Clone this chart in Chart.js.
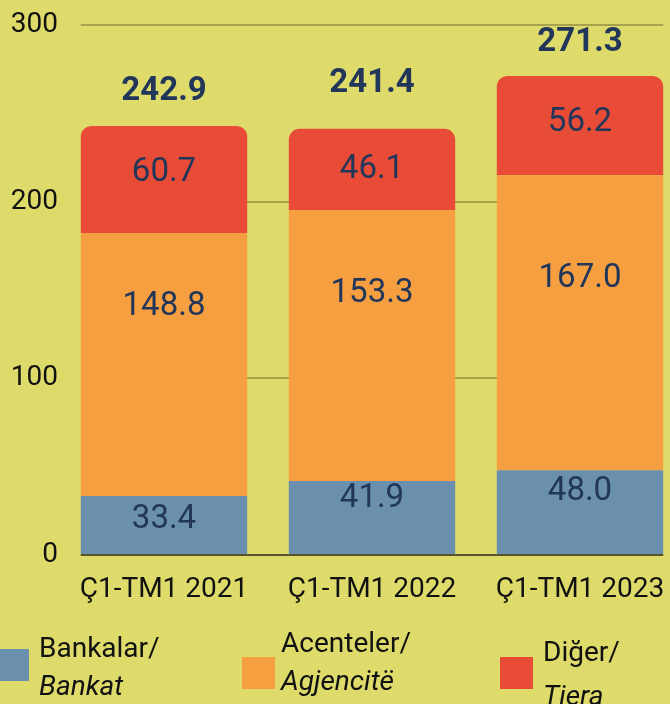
<!DOCTYPE html>
<html>
<head>
<meta charset="utf-8">
<script src="https://cdn.jsdelivr.net/npm/chart.js@4/dist/chart.umd.min.js"></script>
<style>
  html, body { margin:0; padding:0; width:670px; height:704px; overflow:hidden; background:#dedb6a; }
  #wrap { position:absolute; left:0; top:0; width:700px; height:704px; }
  .sq { position:absolute; }
  .lg { position:absolute; font-family:Roboto, sans-serif; font-size:28px; color:#111; white-space:nowrap; }
  .lg i { font-style:italic; }
</style>
</head>
<body>
<div id="wrap"><canvas id="c" width="700" height="704"></canvas></div>
<div id="legend"></div>
<script>
// ---- data ----
const categories = ['Ç1-TM1 2021', 'Ç1-TM1 2022', 'Ç1-TM1 2023'];
const bankalar   = [33.4, 41.9, 48.0];
const acenteler  = [148.8, 153.3, 167.0];
const diger      = [60.7, 46.1, 56.2];
const totals     = [242.9, 241.4, 271.3];
const yTicks     = [0, 100, 200, 300];
const seriesTr   = ['Bankalar/', 'Acenteler/', 'Diğer/'];
const seriesSq   = ['Bankat', 'Agjencitë', 'Tjera'];

// ---- style ----
const colors = ['#6a90ae', '#f59f40', '#e84c37'];
const navy = '#22365a';
const FONT = 'Roboto, sans-serif';

const labelPlugin = {
  id: 'labels',
  beforeDatasetsDraw(chart) {
    const ctx = chart.ctx, y = chart.scales.y;
    const first = chart.getDatasetMeta(0).data[0];
    const last = chart.getDatasetMeta(0).data[categories.length - 1];
    const x0 = first.x - first.width / 2, x1 = last.x + last.width / 2;
    ctx.save();
    ctx.strokeStyle = '#a9a24c';
    ctx.lineWidth = 2;
    yTicks.forEach(v => {
      if (v === 0) return;
      const py = Math.round(y.getPixelForValue(v));
      ctx.beginPath(); ctx.moveTo(x0, py); ctx.lineTo(x1, py); ctx.stroke();
    });
    ctx.restore();
  },
  afterDatasetsDraw(chart, args, opts) {
    const ctx = chart.ctx, y = chart.scales.y;
    const first = chart.getDatasetMeta(0).data[0];
    const last = chart.getDatasetMeta(0).data[categories.length - 1];
    const x0 = first.x - first.width / 2, x1 = last.x + last.width / 2;
    ctx.save();
    ctx.strokeStyle = '#57552c';
    ctx.lineWidth = 2;
    const py0 = Math.round(y.getPixelForValue(0));
    ctx.beginPath(); ctx.moveTo(x0, py0); ctx.lineTo(x1, py0); ctx.stroke();

    ctx.fillStyle = navy;
    ctx.textAlign = 'center';
    ctx.textBaseline = 'middle';
    ctx.font = '33px ' + FONT;
    chart.data.datasets.forEach((ds, i) => {
      const meta = chart.getDatasetMeta(i);
      meta.data.forEach((bar, j) => {
        const top = Math.min(bar.y, bar.base), bot = Math.max(bar.y, bar.base);
        const ly = top + opts.fractions[i][j] * (bot - top);
        ctx.fillText(ds.data[j].toFixed(1), bar.x, ly);
      });
    });
    ctx.font = 'bold 33px ' + FONT;
    const topMeta = chart.getDatasetMeta(chart.data.datasets.length - 1);
    topMeta.data.forEach((bar, j) => {
      ctx.fillText(totals[j].toFixed(1), bar.x, bar.y - opts.totalOffsets[j]);
    });
    ctx.restore();
  }
};

function build() {
  new Chart(document.getElementById('c'), {
    type: 'bar',
    data: {
      labels: categories,
      datasets: [
        { label: seriesTr[0] + seriesSq[0], data: bankalar, backgroundColor: colors[0], borderRadius: 0 },
        { label: seriesTr[1] + seriesSq[1], data: acenteler, backgroundColor: colors[1], borderRadius: 0 },
        { label: seriesTr[2] + seriesSq[2], data: diger, backgroundColor: colors[2],
          borderRadius: { topLeft: 11, topRight: 11, bottomLeft: 0, bottomRight: 0 }, borderSkipped: false }
      ]
    },
    options: {
      responsive: false,
      animation: false,
      devicePixelRatio: 1,
      layout: { padding: { top: 25, right: 16, bottom: 0, left: 0 } },
      datasets: { bar: { categoryPercentage: 0.8, barPercentage: 1.0 } },
      plugins: {
        legend: { display: false },
        tooltip: { enabled: false },
        labels: {
          fractions: [[0.41, 0.24, 0.26], [0.28, 0.31, 0.35], [0.44, 0.51, 0.47]],
          totalOffsets: [34, 45, 33]
        }
      },
      scales: {
        x: {
          stacked: true,
          grid: { display: false, drawTicks: false },
          border: { display: false },
          ticks: { color: '#111', font: { family: FONT, size: 28 }, padding: 18, maxRotation: 0, autoSkip: false },
          afterFit(s) { s.height = 149; }
        },
        y: {
          stacked: true,
          min: 0, max: 300,
          grid: { display: false, drawTicks: false },
          border: { display: false },
          afterBuildTicks(s) { s.ticks = yTicks.map(v => ({ value: v })); },
          ticks: { color: '#111', font: { family: FONT, size: 28 }, padding: 2 },
          afterFit(s) { s.width = 60; }
        }
      }
    },
    plugins: [labelPlugin]
  });

  // HTML legend
  const lg = document.getElementById('legend');
  const sqPos = [[-4, 649], [242, 657], [500, 657]];
  const txPos = [[39, 629, 38], [281, 624, 38], [543, 630, 44]];
  seriesTr.forEach((t, i) => {
    const sq = document.createElement('div');
    sq.className = 'sq';
    sq.style.cssText = `left:${sqPos[i][0]}px;top:${sqPos[i][1]}px;width:33px;height:32px;background:${colors[i]}`;
    lg.appendChild(sq);
    const tx = document.createElement('div');
    tx.className = 'lg';
    tx.style.cssText = `left:${txPos[i][0]}px;top:${txPos[i][1]}px;line-height:${txPos[i][2]}px`;
    tx.innerHTML = `${t}<br><i>${seriesSq[i]}</i>`;
    lg.appendChild(tx);
  });
}

if (document.fonts && document.fonts.load) {
  Promise.all([document.fonts.load('28px Roboto'), document.fonts.load('bold 33px Roboto'), document.fonts.load('italic 28px Roboto')])
    .then(build, build);
} else build();
</script>
</body>
</html>
